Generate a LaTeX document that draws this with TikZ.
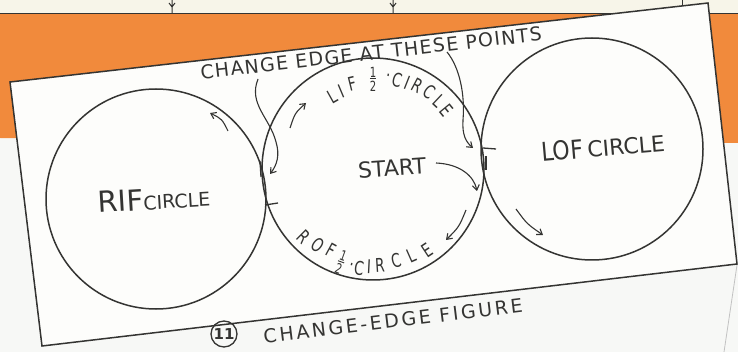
\documentclass[tikz,border=0pt]{standalone}
\usepackage{fontspec}
\setmainfont{DejaVu Sans}
\usetikzlibrary{arrows.meta}
\definecolor{ink}{RGB}{52,52,50}
\definecolor{orng}{RGB}{241,138,60}
\definecolor{paper}{RGB}{247,248,246}
\definecolor{strip}{RGB}{247,245,233}
\definecolor{card}{RGB}{253,253,251}
\newcommand{\cnd}[1]{\scalebox{0.72}[1]{#1}}
\newcommand{\halfm}{{\fontsize{14}{14}\selectfont\vbox{\hbox to 9pt{\hss 1\hss}\kern1.2pt\hrule height 0.9pt\kern1.4pt\hbox to 9pt{\hss 2\hss}}}}
\begin{document}
\begin{tikzpicture}[x=1pt,y=-1pt,
  line/.style={ink, line width=1.5pt},
  arr/.style={ink, line width=1.1pt, -{Straight Barb[length=5pt,width=7pt]}},
  lab/.style={ink, inner sep=0pt},
  ch/.style={ink, inner sep=0pt, font=\fontsize{19}{19}\selectfont},
]
\useasboundingbox (0,0) rectangle (738,352);
% background
\fill[paper] (0,0) rectangle (738,352);
\fill[strip] (0,0) rectangle (738,14);
\fill[orng] (0,14) -- (738,14) -- (738,143) -- (0,138) -- cycle;
\draw[ink, line width=1pt] (0,14) -- (738,14);
\draw[ink, line width=1pt] (172,0) -- (172,13) (169,3) -- (172,7) -- (175,3);
\draw[ink, line width=1pt] (393,0) -- (393,13) (390,3) -- (393,7) -- (396,3);
\draw[ink, line width=0.8pt] (682,0) -- (682,5);
\draw[ink!30, line width=0.8pt] (737,265) -- (724,352);
% card
\draw[line, fill=card] (10,82) -- (708,3) -- (737,264) -- (42,346) -- cycle;
% circles
\coordinate (rifc) at (156,199);
\coordinate (midc) at (373,169);
\coordinate (lofc) at (592,149);
\draw[line] (rifc) circle[radius=110];
\draw[line] (midc) circle[radius=111];
\draw[line] (lofc) circle[radius=111];
% change-edge ticks
\draw[ink, line width=1.3pt] (265,205) -- (278,203);
\draw[ink, line width=1.3pt] (260,161) -- (261,177);
\draw[ink, line width=1.3pt] (483,148) -- (496,149);
\draw[ink, line width=1.3pt] (486,156) -- (486,170);
% labels
\node[lab, rotate=6.5, font=\fontsize{19}{19}\selectfont\addfontfeatures{LetterSpace=7}] (title) at (371,53) {CHANGE EDGE AT THESE POINTS};
\node[lab, rotate=4, font=\fontsize{22}{22}\selectfont] (start) at (392,168) {START};
\node[lab, rotate=3.4] (riflab) at (154,199) {\fontsize{29}{29}\selectfont RIF\fontsize{19}{19}\selectfont CIRCLE};
\node[lab, rotate=5] (loflab) at (603,147) {\fontsize{26}{26}\selectfont\scalebox{0.85}[1]{LOF}\,\fontsize{22}{22}\selectfont CIRCLE};
\node[draw, circle, ink, line width=1.3pt, minimum size=26pt, inner sep=0pt, font=\fontsize{15}{15}\selectfont\bfseries] (num) at (224,334) {11};
\node[lab, rotate=7, font=\fontsize{19}{19}\selectfont\addfontfeatures{LetterSpace=14}] (caption) at (393,321) {CHANGE-EDGE FIGURE};
% arc text: LIF 1/2-CIRCLE
\foreach \c/\x/\y/\r [count=\i] in {L/332/97/29.1, I/341/91/22.9, F/352/84/13.9, \halfm/373/79/0, \textperiodcentered/388/78/-9.3, C/397/80/-15.1, I/407/83/-21.6, R/417/86/-27.9, C/429/92/-36.5, L/439/101/-43.3, E/447/110/-50.6}
  \node[ch, rotate=\r] (lif\i) at (\x,\y) {\cnd{\c}};
% arc text: ROF 1/2-CIRCLE
\foreach \c/\x/\y/\r [count=\i] in {R/304/237/-44.6, O/318/245/-36.3, F/331/250/-28.6, \halfm/341/262/-19.9, \textperiodcentered/351/267/-13, C/359/268/-8, I/369/267/-3, R/380/265/3.6, C/396/261/14, L/411/256/23.8, E/427/250/33.4}
  \node[ch, rotate=\r] (rof\i) at (\x,\y) {\cnd{\c}};
% arrows
\coordinate (ra1) at (228,131); \coordinate (ra2) at (210,113);
\draw[arr] (ra1) .. controls (222,119) .. (ra2);
\coordinate (la1) at (290,128); \coordinate (la2) at (306,103);
\draw[arr] (la1) .. controls (295,113) .. (la2);
\coordinate (ll0) at (258,79); \coordinate (ll1) at (276,142); \coordinate (ll2) at (270,174);
\draw[arr] (ll0) .. controls (248,104) and (270,118) .. (ll1) .. controls (280,155) and (277,165) .. (ll2);
\coordinate (rl0) at (447,52); \coordinate (rl1) at (463,120); \coordinate (rl2) at (473,148);
\draw[arr] (rl0) .. controls (460,68) and (465,95) .. (rl1) .. controls (462,135) and (466,142) .. (rl2);
\coordinate (sa1) at (436,163); \coordinate (sa2) at (477,191);
\draw[arr] (sa1) .. controls (460,164) and (474,176) .. (sa2);
\coordinate (oa1) at (466,210); \coordinate (oa2) at (446,240);
\draw[arr] (oa1) .. controls (459,227) .. (oa2);
\coordinate (fa1) at (516,209); \coordinate (fa2) at (543,235);
\draw[arr] (fa1) .. controls (527,224) .. (fa2);
\end{tikzpicture}
\end{document}
